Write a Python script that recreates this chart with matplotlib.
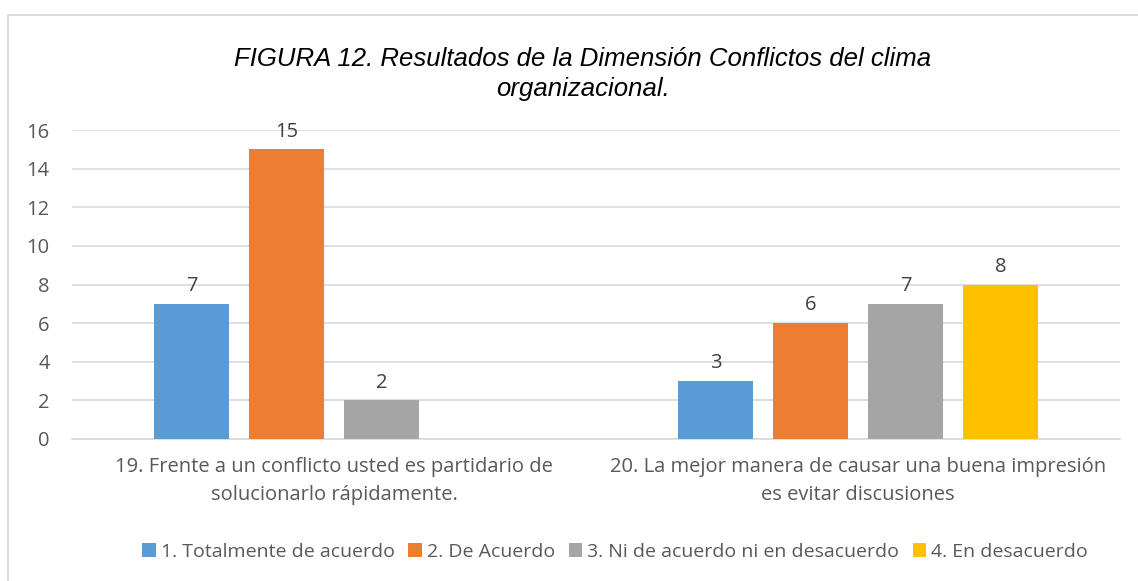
import matplotlib
matplotlib.use("Agg")
import matplotlib.pyplot as plt
from matplotlib.patches import Rectangle
import numpy as np

categories = ["19. Frente a un conflicto usted es partidario de\nsolucionarlo rápidamente.",
              "20. La mejor manera de causar una buena impresión\nes evitar discusiones"]
series_names = ["1. Totalmente de acuerdo", "2. De Acuerdo",
                "3. Ni de acuerdo ni en desacuerdo", "4. En desacuerdo"]
values = [
    [7, 3],
    [15, 6],
    [2, 7],
    [0, 8],
]
colors = ["#5B9BD5", "#ED7D31", "#A5A5A5", "#FFC000"]
yticks = [0, 2, 4, 6, 8, 10, 12, 14, 16]
title = "FIGURA 12. Resultados de la Dimensión Conflictos del clima\norganizacional."

W, H = 1138, 581
fig = plt.figure(figsize=(W / 100, H / 100), dpi=100)
fig.patch.set_facecolor("white")
fig.patches.append(Rectangle((8 / W, -0.1), 1.2, 1 - 15 / H + 0.1, transform=fig.transFigure,
                             fill=False, edgecolor="#D9D9D9", linewidth=1.3))

ax = fig.add_axes([72 / W, 1 - 439 / H, (1120 - 72) / W, (439 - 130) / H])
font = "Open Sans"
fs = 14.5
x = np.arange(len(categories))
bw = 75 / 524
step = 95 / 524
bars_handles = []
for i, (name, vals, c) in enumerate(zip(series_names, values, colors)):
    off = (i - 1.5) * step
    b = ax.bar(x + off, vals, width=bw, color=c, label=name, zorder=3)
    bars_handles.append(b)
    for xi, v in zip(x, vals):
        if v > 0:
            ax.text(xi + off, v + 0.4, str(v), ha="center", va="bottom",
                    fontsize=fs, color="#404040", family=font)

ax.set_xlim(-0.5, 1.5)
ax.set_ylim(0, 16)
ax.set_yticks(yticks)
ax.set_yticklabels([str(t) for t in yticks], fontsize=fs, color="#595959", family=font)
ax.tick_params(axis="y", length=0, pad=16)
ax.tick_params(axis="x", length=0, pad=13)
ax.set_xticks(x)
ax.set_xticklabels(categories, fontsize=fs, color="#595959", family=font, linespacing=1.55)
ax.grid(axis="y", color="#D9D9D9", linewidth=1.2, zorder=0)
for s in ["top", "right", "left"]:
    ax.spines[s].set_visible(False)
ax.spines["bottom"].set_color("#D9D9D9")
ax.spines["bottom"].set_linewidth(1.2)

fig.text(0.5 * (222 + 944) / W, 1 - 74 / H, title, ha="center", va="center",
         fontsize=18.5, style="italic", family="Liberation Sans", color="black",
         linespacing=1.3)

leg = fig.legend(handles=bars_handles, labels=series_names, loc="center right",
                 bbox_to_anchor=(1088 / W, 1 - 552 / H), ncol=4, frameon=False,
                 prop={"family": font, "size": 14}, handlelength=0.7, handleheight=0.7,
                 handletextpad=0.25, columnspacing=0.7, borderpad=0, borderaxespad=0)
for t in leg.get_texts():
    t.set_color("#595959")

fig.savefig("out.png", dpi=100)
